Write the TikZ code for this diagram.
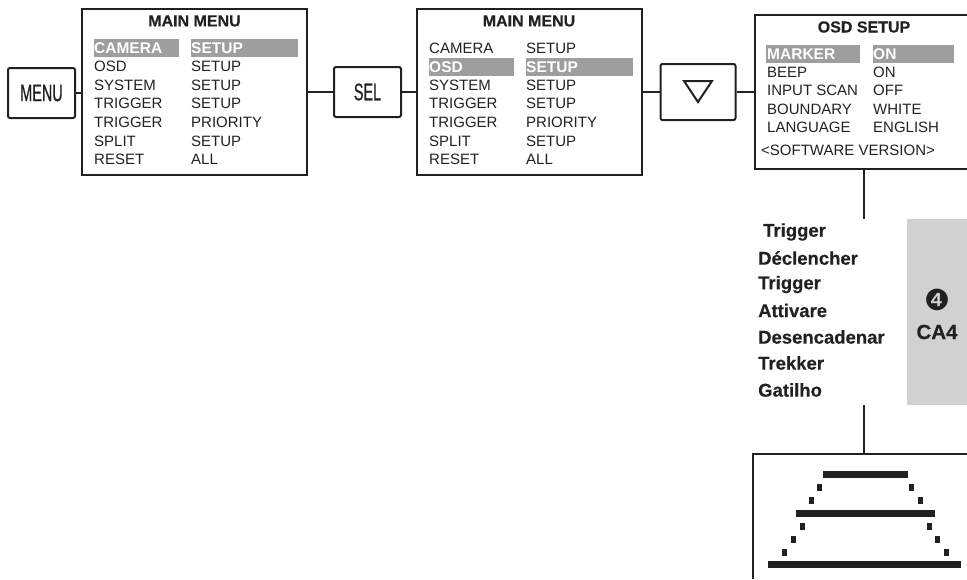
\documentclass[tikz,border=0pt]{standalone}
\usepackage{fontspec}
\setmainfont{Liberation Sans}
\newfontfamily\btnfont[FakeStretch=0.6,FakeBold=0.6]{Liberation Sans}
\newfontfamily\heavyfont[FakeBold=0.35]{Liberation Sans Bold}
\newfontfamily\symfont{DejaVu Sans}
\usetikzlibrary{positioning}
\definecolor{hlgrey}{gray}{0.62}
\definecolor{sidegrey}{gray}{0.82}
\definecolor{inkblack}{gray}{0.13}
\tikzset{
	menubox/.style={draw=inkblack, line width=2pt, inner sep=0pt},
	btnbox/.style={draw=inkblack, line width=2pt, rounded corners=2pt, inner sep=0pt},
	btntext/.style={font=\btnfont\fontsize{24}{24}\selectfont, text=inkblack},
	wire/.style={draw=inkblack, line width=2pt},
	rowtext/.style={anchor=west, inner sep=0pt, text=inkblack, font=\fontsize{15}{15}\selectfont},
	titletext/.style={inner sep=0pt, text=inkblack, font=\heavyfont\fontsize{16}{16}\selectfont},
	hltext/.style={anchor=west, inner sep=0pt, text=white, font=\bfseries\fontsize{15.5}{15.5}\selectfont},
	hlbar/.style={fill=hlgrey, inner sep=0pt, anchor=west, minimum height=18pt},
	langtext/.style={anchor=west, inner sep=0pt, text=inkblack, font=\heavyfont\fontsize{18.5}{18.5}\selectfont},
	barblack/.style={fill=inkblack},
}
\begin{document}
\begin{tikzpicture}[x=1pt,y=-1pt]
	\useasboundingbox (0,0) rectangle (967,579);

	% buttons
	\node[btnbox, btntext, minimum width=67pt, minimum height=50pt] (menu) at (41.5,93) {MENU};
	\node[btnbox, btntext, minimum width=67pt, minimum height=50pt] (sel) at (367.5,92) {SEL};
	\node[btnbox, minimum width=75pt, minimum height=56pt] (down) at (698,92) {};
	\draw[wire, line join=miter] ([shift={(-14,-11)}]down.center) -- ([shift={(14,-11)}]down.center) -- ([shift={(0,10)}]down.center) -- cycle;

	% menu frames
	\node[menubox, minimum width=225pt, minimum height=166pt] (mainA) at (194.5,92) {};
	\node[menubox, minimum width=225pt, minimum height=166pt] (mainB) at (529,92) {};
	\node[inner sep=0pt, minimum width=212pt, minimum height=154pt] (osd) at (861,92) {};
	\draw[wire] (osd.north east) -- (osd.north west) -- (osd.south west) -- (osd.south east);

	% wires along the top row
	\draw[wire] (menu.east) -- (mainA.west |- menu.east);
	\draw[wire] (mainA.east |- sel.west) -- (sel.west);
	\draw[wire] (sel.east) -- (mainB.west |- sel.east);
	\draw[wire] (mainB.east |- down.west) -- (down.west);
	\draw[wire] (down.east) -- (osd.west |- down.east);

	% highlights
	\node[hlbar, minimum width=85pt] (hlA) at (94,48) {};
	\node[hlbar, minimum width=107pt] (hlAb) at (191,48) {};
	\node[hlbar, minimum width=85pt] (hlB) at (429,67) {};
	\node[hlbar, minimum width=107pt] (hlBb) at (526,67) {};
	\node[hlbar, minimum width=94pt] (hlC) at (766,54) {};
	\node[hlbar, minimum width=81pt] (hlCb) at (873,54) {};

	% first menu
	\node[titletext] (titleA) at (194.5,21) {MAIN MENU};
	\node[hltext] (camA) at (94,48) {CAMERA};
	\node[hltext] (setA) at (191,48) {SETUP};
	\foreach \ypos/\left/\right in {66.6/OSD/SETUP, 85.2/SYSTEM/SETUP, 103.8/TRIGGER/SETUP, 122.3/TRIGGER/PRIORITY, 140.9/SPLIT/SETUP, 159.4/RESET/ALL}{
		\node[rowtext] at (94,\ypos) {\left};
		\node[rowtext] at (191,\ypos) {\right};
	}

	% second menu
	\node[titletext] (titleB) at (529,21) {MAIN MENU};
	\node[rowtext] at (429,48) {CAMERA};
	\node[rowtext] at (526,48) {SETUP};
	\node[hltext] (osdB) at (429,67) {OSD};
	\node[hltext] (setB) at (526,67) {SETUP};
	\foreach \ypos/\left/\right in {85.2/SYSTEM/SETUP, 103.8/TRIGGER/SETUP, 122.3/TRIGGER/PRIORITY, 140.9/SPLIT/SETUP, 159.4/RESET/ALL}{
		\node[rowtext] at (429,\ypos) {\left};
		\node[rowtext] at (526,\ypos) {\right};
	}

	% osd setup
	\node[titletext] (titleC) at (864,27) {OSD SETUP};
	\node[hltext] (markC) at (767,54) {MARKER};
	\node[hltext] (onC) at (873,54) {ON};
	\foreach \ypos/\left/\right in {72.5/BEEP/ON, 90.5/INPUT SCAN/OFF, 109/BOUNDARY/WHITE, 127.5/LANGUAGE/ENGLISH}{
		\node[rowtext] at (767,\ypos) {\left};
		\node[rowtext] at (873,\ypos) {\right};
	}
	\node[rowtext] (softC) at (761,150.5) {<SOFTWARE VERSION>};

	% grey side block
	\node[fill=sidegrey, inner sep=0pt, minimum width=60pt, minimum height=186pt] (side) at (937,312) {};
	\node[inner sep=0pt, text=inkblack, font=\symfont\fontsize{29}{29}\selectfont] (num) at (937,300) {❹};
	\node[inner sep=0pt, text=inkblack, font=\heavyfont\fontsize{20.5}{20.5}\selectfont] (ca) at (937,332) {CA4};

	% languages
	\node[langtext] (lang) at (763,232) {Trigger};
	\foreach \ypos/\word in {258/Déclencher, 284.5/Trigger, 310.5/Attivare, 337/Desencadenar, 363/Trekker, 390/Gatilho}{
		\node[langtext] at (758,\ypos) {\word};
	}

	% bottom screen
	\node[inner sep=0pt, minimum width=214pt, minimum height=125pt] (screen) at (860,516.5) {};
	\draw[wire] (screen.north east) -- (screen.north west) -- (screen.south west);

	\coordinate (wireTop) at (osd.south -| 864,0);
	\coordinate (wireMidA) at (864,219);
	\coordinate (wireMidB) at (864,405);
	\coordinate (wireEnd) at (screen.north -| 864,0);
	\draw[wire] (wireTop) -- (wireMidA);
	\draw[wire] (wireMidB) -- (wireEnd);

	% trapezoid picture
	\fill[barblack] (823,471) rectangle (908,478);
	\fill[barblack] (795.5,509.5) rectangle (935,516.5);
	\fill[barblack] (768,561) rectangle (961,568);
	\foreach \xpos/\ypos in {819/487, 911/487, 811/500, 920/500, 802/526, 929/526, 793/539, 937.5/539, 784.5/552, 946/552}{
		\fill[barblack] (\xpos-2.5,\ypos-3.5) rectangle (\xpos+2.5,\ypos+3.5);
	}
\end{tikzpicture}
\end{document}
